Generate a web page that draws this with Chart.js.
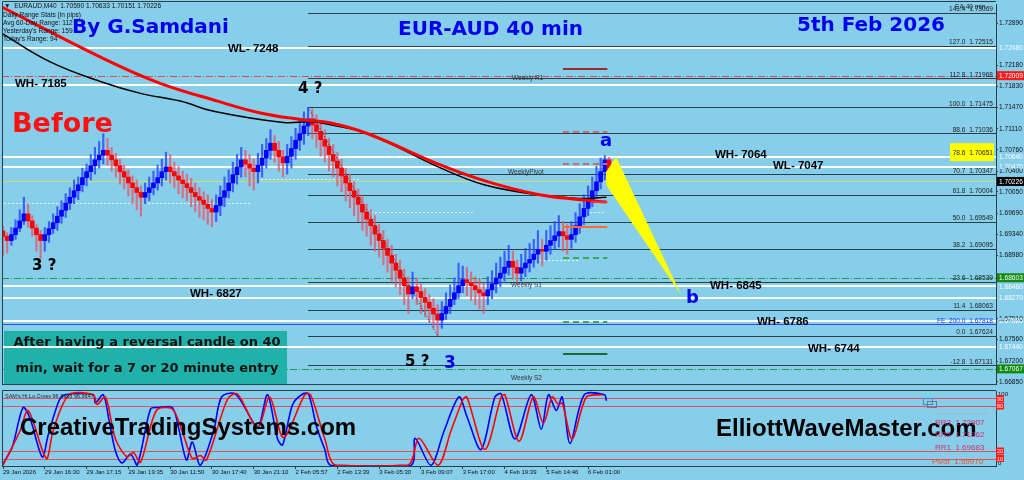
<!DOCTYPE html>
<html>
<head>
<meta charset="utf-8">
<script src="https://cdn.jsdelivr.net/npm/chart.js"></script>
<style>
  html, body { margin: 0; padding: 0; background: #87CEEB; }
  #wrap { position: relative; width: 1024px; height: 480px; overflow: hidden; background: #87CEEB; }
  canvas { position: absolute; left: 0; }
  #main { top: 0; }
  #osc { top: 389px; }
</style>
</head>
<body>
<div id="wrap">
  <canvas id="main" width="1024" height="389"></canvas>
  <canvas id="osc" width="1024" height="91"></canvas>
</div>
<script>
// EURAUD M40 candles (index 0 = first bar on screen)
const firstOpen = 1.6939;
const closes = [
  1.6930,1.6923,1.6933,1.6944,1.6956,1.6968,1.6956,1.6944,1.6933,1.6923,
  1.6933,1.6943,1.6953,1.6964,1.6974,1.6986,1.6996,1.7007,1.7017,1.7029,
  1.7039,1.7049,1.7059,1.7067,1.7075,1.7067,1.7059,1.7049,1.7039,1.7030,
  1.7020,1.7012,1.7004,1.6996,1.7004,1.7012,1.7020,1.7029,1.7039,1.7047,
  1.7039,1.7032,1.7025,1.7019,1.7012,1.7004,1.6997,1.6991,1.6984,1.6977,
  1.6971,1.6982,1.6996,1.7007,1.7020,1.7034,1.7047,1.7059,1.7052,1.7045,
  1.7039,1.7050,1.7062,1.7075,1.7087,1.7075,1.7064,1.7054,1.7065,1.7078,
  1.7092,1.7103,1.7116,1.7128,1.7118,1.7107,1.7093,1.7082,1.7068,1.7057,
  1.7045,1.7032,1.7020,1.7007,1.6996,1.6984,1.6971,1.6959,1.6948,1.6934,
  1.6923,1.6910,1.6898,1.6885,1.6873,1.6860,1.6847,1.6833,1.6845,1.6837,
  1.6827,1.6819,1.6809,1.6799,1.6789,1.6800,1.6812,1.6824,1.6835,1.6847,
  1.6857,1.6852,1.6847,1.6840,1.6835,1.6830,1.6840,1.6850,1.6860,1.6868,
  1.6878,1.6888,1.6878,1.6868,1.6877,1.6885,1.6891,1.6900,1.6908,1.6905,
  1.6915,1.6923,1.6931,1.6938,1.6931,1.6925,1.6933,1.6948,1.6963,1.6977,
  1.6992,1.7007,1.7022,1.7039,1.70590,1.70226
];
const highs = [
  1.6947,1.6936,1.6945,1.6958,1.6975,1.6996,1.6985,1.6965,1.6950,1.6940,
  1.6945,1.6955,1.6968,1.6980,1.6990,1.7002,1.7012,1.7025,1.7030,1.7045,
  1.7052,1.7068,1.7080,1.7090,1.7103,1.7095,1.7080,1.7070,1.7060,1.7050,
  1.7042,1.7032,1.7025,1.7015,1.7020,1.7030,1.7040,1.7050,1.7060,1.7072,
  1.7068,1.7055,1.7048,1.7040,1.7035,1.7028,1.7020,1.7012,1.7005,1.7000,
  1.6992,1.7000,1.7015,1.7030,1.7042,1.7055,1.7068,1.7080,1.7075,1.7068,
  1.7060,1.7070,1.7085,1.7095,1.7110,1.7100,1.7090,1.7075,1.7085,1.7098,
  1.7112,1.7125,1.7140,1.71475,1.7145,1.7135,1.7125,1.7110,1.7095,1.7085,
  1.7072,1.7060,1.7045,1.7035,1.7022,1.7010,1.7000,1.6985,1.6975,1.6965,
  1.6950,1.6940,1.6925,1.6915,1.6900,1.6890,1.6875,1.6862,1.6870,1.6860,
  1.6850,1.6842,1.6832,1.6825,1.6815,1.6820,1.6835,1.6848,1.6860,1.6885,
  1.6880,1.6878,1.6870,1.6862,1.6858,1.6852,1.6862,1.6872,1.6885,1.6895,
  1.6905,1.6915,1.6905,1.6890,1.6900,1.6910,1.6918,1.6925,1.6940,1.6925,
  1.6940,1.6948,1.6955,1.6965,1.6955,1.6950,1.6955,1.6970,1.6985,1.7000,
  1.7015,1.7030,1.7048,1.7062,1.7066,1.70633
];
const lows = [
  1.6898,1.6902,1.6915,1.6925,1.6938,1.6950,1.6945,1.6930,1.6905,1.6893,
  1.6905,1.6920,1.6935,1.6940,1.6952,1.6962,1.6975,1.6985,1.6992,1.7005,
  1.7015,1.7025,1.7035,1.7045,1.7052,1.7050,1.7040,1.7030,1.7018,1.7010,
  1.6998,1.6985,1.6975,1.6964,1.6985,1.6990,1.7000,1.7008,1.7015,1.7025,
  1.7020,1.7012,1.7002,1.6995,1.6990,1.6980,1.6972,1.6962,1.6958,1.6950,
  1.6946,1.6955,1.6965,1.6980,1.6995,1.7005,1.7018,1.7030,1.7030,1.7015,
  1.7008,1.7020,1.7030,1.7045,1.7060,1.7055,1.7040,1.7030,1.7035,1.7045,
  1.7060,1.7075,1.7085,1.7100,1.7095,1.7080,1.7065,1.7055,1.7040,1.7030,
  1.7015,1.7005,1.6990,1.6978,1.6965,1.6955,1.6940,1.6930,1.6915,1.6905,
  1.6895,1.6882,1.6870,1.6855,1.6845,1.6832,1.6815,1.6800,1.6825,1.6815,
  1.6800,1.6795,1.6785,1.6775,1.67624,1.6775,1.6790,1.6800,1.6815,1.6825,
  1.6835,1.6830,1.6822,1.6815,1.6808,1.6800,1.6815,1.6825,1.6835,1.6845,
  1.6855,1.6865,1.6858,1.6850,1.6855,1.6862,1.6870,1.6878,1.6885,1.6880,
  1.6890,1.6900,1.6908,1.6912,1.6905,1.6900,1.6910,1.6920,1.6935,1.6950,
  1.6965,1.6980,1.6995,1.7010,1.7025,1.70151
];

// moving averages, read at a few bars
const redMA = [
  {x:-0.7,y:1.7318},{x:25.7,y:1.7224},{x:37.6,y:1.7188},{x:51.3,y:1.7158},{x:61.6,y:1.7138},
  {x:71.2,y:1.7127},{x:78.4,y:1.7121},{x:87.3,y:1.7103},{x:104.8,y:1.7050},{x:115.1,y:1.7024},
  {x:127.1,y:1.7002},{x:137.6,y:1.6992},{x:144.4,y:1.6988}
];
const blackMA = [
  {x:-0.7,y:1.7274},{x:11.3,y:1.7224},{x:23.3,y:1.7191},{x:32.9,y:1.7171},{x:42.4,y:1.7158},
  {x:50.4,y:1.7141},{x:67.1,y:1.7122},{x:73.6,y:1.7123},{x:78.4,y:1.7118},{x:87.3,y:1.7103},
  {x:104.8,y:1.7045},{x:115.1,y:1.7017},{x:127.1,y:1.7001},{x:137.6,y:1.6994},{x:144.4,y:1.6996}
];

// oscillator (SAM's Hi.Lo.Cross)
const oscBlue = [
  {x:-0.2,y:1},{x:2.2,y:25},{x:4.8,y:78},{x:6.5,y:63},{x:9.4,y:12},{x:10.8,y:41},{x:13.4,y:87},
  {x:14.9,y:95},{x:21.6,y:95},{x:22.1,y:84},{x:24,y:95},{x:25.4,y:60},{x:26.9,y:20},{x:28.5,y:4},
  {x:30.5,y:16},{x:32.1,y:1},{x:35.3,y:76},{x:37.2,y:78},{x:40.5,y:78},{x:42,y:51},{x:43.9,y:8},
  {x:45.3,y:32},{x:47.2,y:1},{x:50.4,y:47},{x:52.3,y:92},{x:55.6,y:96},{x:60,y:57},{x:61.2,y:52},
  {x:63.3,y:95},{x:65.7,y:36},{x:66.9,y:28},{x:69.3,y:82},{x:71.7,y:96},{x:73.1,y:96},{x:75.1,y:51},
  {x:77,y:22},{x:78.4,y:1},{x:97.6,y:1},{x:98.6,y:37},{x:102.4,y:1},{x:105.5,y:46},{x:109.1,y:92},
  {x:111,y:66},{x:114.4,y:22},{x:117.7,y:92},{x:119.2,y:96},{x:122.5,y:36},{x:126.4,y:95},
  {x:128.8,y:49},{x:130.5,y:95},{x:132.4,y:74},{x:133.8,y:92},{x:135.7,y:30},{x:139.1,y:95},
  {x:143.9,y:95},{x:144.4,y:87}
];
const oscRed = [
  {x:0,y:1},{x:4.1,y:47},{x:6,y:74},{x:9.6,y:18},{x:10.6,y:10},{x:12,y:47},{x:15.8,y:95},
  {x:21.6,y:95},{x:22.5,y:82},{x:24.5,y:92},{x:26.9,y:36},{x:29.7,y:12},{x:31.2,y:18},{x:32.9,y:5},
  {x:36.7,y:74},{x:40.5,y:76},{x:42.9,y:46},{x:45.3,y:10},{x:47.2,y:14},{x:48.7,y:8},{x:53.7,y:89},
  {x:56.1,y:96},{x:60.9,y:51},{x:63.8,y:92},{x:67.1,y:38},{x:72.2,y:95},{x:73.6,y:95},{x:77,y:36},
  {x:79.6,y:1},{x:96.9,y:1},{x:99.5,y:37},{x:104.1,y:1},{x:107.2,y:47},{x:110.1,y:89},{x:111,y:92},
  {x:115.3,y:22},{x:119.2,y:92},{x:120.1,y:95},{x:123.5,y:33},{x:126.9,y:92},{x:129.3,y:57},
  {x:131.4,y:92},{x:132.9,y:82},{x:133.8,y:84},{x:136.2,y:36},{x:139.6,y:92},{x:143.4,y:95}
];
const oscLevels = [90, 80, 20, 10];

// axis labels
const timeLabels = ['29 Jan 2026','29 Jan 16:30','29 Jan 17:15','29 Jan 19:35','30 Jan 11:50','30 Jan 17:40',
  '30 Jan 21:10','2 Feb 05:57','2 Feb 13:39','3 Feb 05:30','3 Feb 09:07','3 Feb 17:00','4 Feb 19:39',
  '5 Feb 14:46','6 Feb 01:00'];
const priceTicks = [1.72890,1.72180,1.71830,1.71470,1.71110,1.70760,1.70400,1.70050,1.69690,1.69340,
  1.68980,1.67910,1.67560,1.67200,1.66850];

// fibonacci retracement drawn from the swing high
const fibStartBar = 73;
const fibRatios = [141.4,127.0,112.8,100.0,88.6,78.6,70.7,61.8,50.0,38.2,23.6,11.4,0.0,-12.8];
const fibPrices = [1.73069,1.72515,1.71968,1.71475,1.71036,1.70651,1.70347,1.70004,1.69549,1.69095,
  1.68539,1.68063,1.67624,1.67131];

// horizontal levels
const whiteLevels = [1.72480,1.71850,1.70640,1.70470,1.68460,1.68270,1.67880,1.67440];
const whiteNotes = ['WL- 7248','WH- 7185','WH- 7064','WL- 7047','WH- 6845','WH- 6827','WH- 6786','WH- 6744'];
const redDashLevel = 1.72009;
const greenDashLevels = [1.68603,1.67067];
const lastPrice = 1.70226;
const fe200 = 1.67818;
const tagPrices = [1.72480,1.72009,1.70640,1.70470,1.70226,1.68603,1.68460,1.68270,1.67880,1.67440,1.67067];
const tagKinds  = ['w','red','w','w','last','green','w','w','w','w','green'];

// short weekly pivot markers near the last bars
const pivotPrices = [1.72124,1.71065,1.70519,1.69874,1.69460,1.68931,1.67855,1.67325];
const pivotFrom   = [134,134,134,140.8,134,134,134,134];
const pivotTo     = [144.6,144.6,144.6,144.6,144.6,144.6,144.6,144.6];
const dottedPrices = [1.69857,1.70271,1.69708,1.68897,1.69708];
const dottedFrom   = [-0.7,59.8,87.1,128.5,140.4];
const dottedTo     = [59.1,85.4,112.4,138,144];

// projected wave a-b
const yellowWave = [{x:144.3,y:1.7039},{x:146.7,y:1.7064},{x:162.2,y:1.6832},{x:144.3,y:1.7017}];

const xMin = -0.24, xMax = 237.6;
const opens = closes.map((c, i) => i === 0 ? firstOpen : closes[i - 1]);
const last = closes.length - 1;

function hline(ctx, x1, x2, y, color, w, dash) {
  ctx.save();
  ctx.strokeStyle = color; ctx.lineWidth = w; ctx.setLineDash(dash || []);
  const yy = w % 2 ? Math.round(y) + 0.5 : Math.round(y);
  ctx.beginPath(); ctx.moveTo(x1, yy); ctx.lineTo(x2, yy); ctx.stroke();
  ctx.restore();
}
function txt(ctx, s, x, y, font, color, align, base) {
  ctx.save();
  ctx.font = font; ctx.fillStyle = color;
  ctx.textAlign = align || 'left'; ctx.textBaseline = base || 'alphabetic';
  ctx.fillText(s, x, y);
  ctx.restore();
}
const small = '6.6px "Liberation Sans"';
const boldNote = 'bold 11.5px "Liberation Sans"';
const dvb = s => 'bold ' + s + 'px "DejaVu Sans"';

const mainDecor = {
  id: 'mainDecor',
  beforeDatasetsDraw(chart) {
    const { ctx, chartArea: a, scales: { x, y } } = chart;
    ctx.save();
    ctx.beginPath(); ctx.rect(a.left, a.top, a.right - a.left, a.bottom - a.top); ctx.clip();
    dottedPrices.forEach((p, i) => hline(ctx, x.getPixelForValue(dottedFrom[i]), x.getPixelForValue(dottedTo[i]), y.getPixelForValue(p), '#eef6ff', 1, [2, 2]));
    const fx = x.getPixelForValue(fibStartBar);
    fibPrices.forEach(p => hline(ctx, fx, a.right, y.getPixelForValue(p), '#2c3e46', 1));
    hline(ctx, a.left, a.right, y.getPixelForValue(redDashLevel), '#e04848', 1, [7, 2, 1, 2]);
    greenDashLevels.forEach(p => hline(ctx, a.left, a.right, y.getPixelForValue(p), '#1e9a3c', 1, [7, 2, 1, 2]));
    // teal message box
    ctx.fillStyle = '#20B2AA';
    ctx.fillRect(4, 331, 283, 54);
    whiteLevels.forEach(p => hline(ctx, a.left, a.right, y.getPixelForValue(p), '#ffffff', 2));
    hline(ctx, a.left, a.right, y.getPixelForValue(lastPrice), '#c9dd72', 1);
    hline(ctx, a.left, a.right, y.getPixelForValue(fe200), '#2f4cff', 1);
    ctx.restore();
  },
  afterDatasetsDraw(chart) {
    const { ctx, scales: { x, y } } = chart;
    const cols = ['#a02828','#c86a7a','#c86a7a','#ff2a2a','#ff6a30','#3ea855','#3ea855','#1e6a34'];
    const dashes = [[],[6,4],[6,4],[],[],[6,4],[6,4],[]];
    pivotPrices.forEach((p, i) => hline(ctx, x.getPixelForValue(pivotFrom[i]), x.getPixelForValue(pivotTo[i]), y.getPixelForValue(p), cols[i], 2, dashes[i]));
    ctx.save();
    ctx.fillStyle = '#FFFF00';
    ctx.beginPath();
    yellowWave.forEach((pt, i) => {
      const px = x.getPixelForValue(pt.x), py = y.getPixelForValue(pt.y);
      if (i === 0) ctx.moveTo(px, py); else ctx.lineTo(px, py);
    });
    ctx.closePath(); ctx.fill();
    ctx.restore();
  },
  afterDraw(chart) {
    const { ctx, chartArea: a, scales: { y } } = chart;
    // panel frame
    ctx.save();
    ctx.strokeStyle = '#2c3e46'; ctx.lineWidth = 1;
    ctx.beginPath();
    ctx.moveTo(a.left + 0.5, a.bottom + 0.5); ctx.lineTo(a.left + 0.5, 1.5); ctx.lineTo(a.right, 1.5);
    ctx.moveTo(a.left, a.bottom + 0.5); ctx.lineTo(a.right, a.bottom + 0.5);
    ctx.stroke();
    ctx.restore();

    // fib labels
    fibRatios.forEach((r, i) => {
      const py = y.getPixelForValue(fibPrices[i]);
      if (r === 78.6) { ctx.fillStyle = '#FFFF00'; ctx.fillRect(a.right - 46, py - 13, 44, 18); }
      txt(ctx, r.toFixed(1) + '  ' + fibPrices[i].toFixed(5), a.right - 3, py - 1.5, small, '#1e1e1e', 'right');
    });
    txt(ctx, 'FE  200.0  ' + fe200.toFixed(5), a.right - 3, y.getPixelForValue(fe200) - 1.5, small, '#2a2aff', 'right');
    txt(ctx, 'EA 40 min', 955, 9, small, '#1e1e1e');

    // info block
    const o = opens[last], h = highs[last], l = lows[last], c = closes[last];
    txt(ctx, '\u25BC  EURAUD,M40  ' + [o, h, l, c].map(v => v.toFixed(5)).join(' '), 4, 8, small, '#111');
    txt(ctx, 'Daily Range Stats (in pips)', 3, 17, small, '#111');
    txt(ctx, 'Avg 60-Day Range: 112', 3, 25, small, '#111');
    txt(ctx, "Yesterday's Range: 159", 3, 33, small, '#111');
    txt(ctx, "Today's Range: 94", 3, 41, small, '#111');

    // titles
    txt(ctx, 'By G.Samdani', 72, 33, dvb(20), '#0000EE');
    txt(ctx, 'EUR-AUD 40 min', 583, 34.5, dvb(20), '#0000EE', 'right');
    txt(ctx, '5th Feb 2026', 797, 31, dvb(20), '#0000EE');
    txt(ctx, 'Before', 12, 132, dvb(27), '#FF1010');

    // wave labels
    txt(ctx, '4 ?', 298, 93, dvb(15), '#000');
    txt(ctx, '3 ?', 32, 270, dvb(15), '#000');
    txt(ctx, '5 ?', 405, 366, dvb(15), '#000');
    txt(ctx, '3', 444, 368, dvb(17), '#0000EE');
    txt(ctx, 'a', 600, 146, dvb(18), '#0000EE');
    txt(ctx, 'b', 686, 303, dvb(18), '#0000EE');

    // level notes
    const noteX = [228, 15, 715, 773, 710, 190, 757, 808];
    const noteDy = [1, -1, -2, -1, 0, -4, 1, 2];
    whiteNotes.forEach((s, i) => txt(ctx, s, noteX[i], y.getPixelForValue(whiteLevels[i]) + noteDy[i], boldNote, '#000', 'left', 'middle'));

    // weekly pivot names
    txt(ctx, 'Weekly R1', 512, 78, '6.5px "Liberation Sans"', '#333', 'left', 'middle');
    txt(ctx, 'WeeklyPivot', 508, 172, '6.5px "Liberation Sans"', '#333', 'left', 'middle');
    txt(ctx, 'Weekly S1', 511, 285, '6.5px "Liberation Sans"', '#333', 'left', 'middle');
    txt(ctx, 'Weekly S2', 511, 378, '6.5px "Liberation Sans"', '#333', 'left', 'middle');

    // message box text
    txt(ctx, 'After having a reversal candle on 40', 147, 346, dvb(13), '#111', 'center');
    txt(ctx, 'min, wait for a 7 or 20 minute entry', 147, 372, dvb(13), '#111', 'center');

    // price tags on the axis
    tagPrices.forEach((p, i) => {
      const py = y.getPixelForValue(p);
      const k = tagKinds[i];
      if (k !== 'w') {
        ctx.fillStyle = k === 'red' ? '#FF1A1A' : k === 'green' ? '#128a12' : '#000';
        ctx.fillRect(997, py - 4.5, 27, 9);
      }
      txt(ctx, p.toFixed(5), 999, py + 0.5, small, '#ffffff', 'left', 'middle');
    });
  }
};

new Chart(document.getElementById('main'), {
  type: 'bar',
  data: {
    datasets: [
      { type: 'line', data: redMA, borderColor: '#FF0000', borderWidth: 3, pointRadius: 0, tension: 0.4, order: -2 },
      { type: 'line', data: blackMA, borderColor: '#000000', borderWidth: 1.5, pointRadius: 0, tension: 0.4, order: -1 },
      { type: 'line', data: [{ x: 73, y: highs[73] }, { x: 104, y: lows[104] }], borderColor: '#333', borderWidth: 1,
        borderDash: [1, 2], pointRadius: 0, order: -3 },
      { data: closes.map((c, i) => ({ x: i, y: [opens[i], c] })),
        backgroundColor: closes.map((c, i) => c >= opens[i] ? '#0000FF' : '#FF0000'),
        barThickness: 4, grouped: false, order: 0 },
      { data: closes.map((c, i) => ({ x: i, y: [lows[i], highs[i]] })),
        backgroundColor: closes.map((c, i) => c >= opens[i] ? 'rgba(40,70,255,0.8)' : 'rgba(235,80,100,0.75)'),
        barThickness: 1.5, grouped: false, order: 1 }
    ]
  },
  options: {
    responsive: false, animation: false, events: [],
    layout: { padding: { left: 2, top: 2, right: 0, bottom: 1 } },
    plugins: { legend: { display: false }, tooltip: { enabled: false } },
    scales: {
      x: { type: 'linear', min: xMin, max: xMax, display: false, offset: false },
      y: {
        position: 'right', min: 1.66812, max: 1.73200,
        afterFit(s) { s.width = 28; },
        afterBuildTicks(s) { s.ticks = priceTicks.map(v => ({ value: v })); },
        ticks: { color: '#111', font: { family: 'Liberation Sans', size: 6.6 }, padding: 1,
          callback: v => Number(v).toFixed(5) },
        grid: { drawOnChartArea: false, tickLength: 2, color: '#2c3e46' },
        border: { display: true, color: '#2c3e46', width: 1 }
      }
    }
  },
  plugins: [mainDecor]
});

const oscDecor = {
  id: 'oscDecor',
  beforeDatasetsDraw(chart) {
    const { ctx, chartArea: a, scales: { y } } = chart;
    oscLevels.forEach(v => hline(ctx, a.left, a.right, y.getPixelForValue(v), '#e0505e', 1));
  },
  afterDraw(chart) {
    const { ctx, chartArea: a, scales: { y } } = chart;
    ctx.save();
    ctx.strokeStyle = '#2c3e46'; ctx.lineWidth = 1;
    ctx.beginPath();
    ctx.moveTo(a.left + 0.5, a.bottom); ctx.lineTo(a.left + 0.5, 1.5); ctx.lineTo(a.right, 1.5);
    ctx.stroke();
    ctx.restore();
    txt(ctx, "SAM's Hi.Lo.Cross 96.8928 96.9647", 5, 9, '5.5px "Liberation Sans"', '#222');
    txt(ctx, 'CreativeTradingSystems.com', 20, 46, 'bold 24px "Liberation Sans"', '#000');
    txt(ctx, 'ElliottWaveMaster.com', 716, 47, 'bold 24px "Liberation Sans"', '#000');
    // right side
    txt(ctx, '100', 998, 5, '6px "Liberation Sans"', '#111', 'left', 'middle');
    txt(ctx, '0', 998, 74, '6px "Liberation Sans"', '#111', 'left', 'middle');
    oscLevels.forEach(v => {
      const py = y.getPixelForValue(v);
      ctx.fillStyle = '#FF1A1A'; ctx.fillRect(996, py - 3.5, 8, 7);
      txt(ctx, String(v), 997, py + 0.5, '5.5px "Liberation Sans"', '#fff', 'left', 'middle');
    });
    // pivot summary
    ctx.strokeStyle = '#5a7fa8'; ctx.lineWidth = 1;
    ctx.strokeRect(923.5, 9.5, 9, 6); ctx.strokeRect(927.5, 12.5, 9, 6);
    hline(ctx, 935, 988, 24, '#9fb8c8', 1);
    txt(ctx, 'RR3  1.72907', 935, 34, '8px "Liberation Sans"', '#c8286a', 'left', 'middle');
    txt(ctx, 'RR2  1.71862', 935, 46, '8px "Liberation Sans"', '#d0306a', 'left', 'middle');
    txt(ctx, 'RR1  1.69683', 935, 59, '8px "Liberation Sans"', '#d0306a', 'left', 'middle');
    txt(ctx, 'Pivot  1.69970', 932, 73, '8px "Liberation Sans"', '#ff4a10', 'left', 'middle');
  }
};

new Chart(document.getElementById('osc'), {
  type: 'line',
  data: {
    datasets: [
      { data: oscBlue, borderColor: '#0000FF', borderWidth: 1.6, pointRadius: 0, tension: 0.3, order: 1 },
      { data: oscRed, borderColor: '#FF0000', borderWidth: 1.6, pointRadius: 0, tension: 0.3, order: 0 }
    ]
  },
  options: {
    responsive: false, animation: false, events: [],
    layout: { padding: { left: 2, top: 2, right: 0, bottom: 0 } },
    plugins: { legend: { display: false }, tooltip: { enabled: false } },
    scales: {
      x: {
        type: 'linear', min: xMin, max: xMax, offset: false,
        afterFit(s) { s.height = 14; },
        afterBuildTicks(s) { s.ticks = timeLabels.map((t, i) => ({ value: i * 10 })); },
        ticks: { autoSkip: false, maxRotation: 0, align: 'start', padding: 0, color: '#111',
          font: { family: 'Liberation Sans', size: 6 }, callback: (v, i) => timeLabels[i] },
        grid: { drawOnChartArea: false, tickLength: 3, color: '#2c3e46' },
        border: { display: true, color: '#2c3e46' }
      },
      y: {
        position: 'right', min: 0, max: 100,
        afterFit(s) { s.width = 28; },
        ticks: { display: false },
        grid: { drawOnChartArea: false, drawTicks: false },
        border: { display: true, color: '#2c3e46' }
      }
    }
  },
  plugins: [oscDecor]
});
</script>
</body>
</html>
